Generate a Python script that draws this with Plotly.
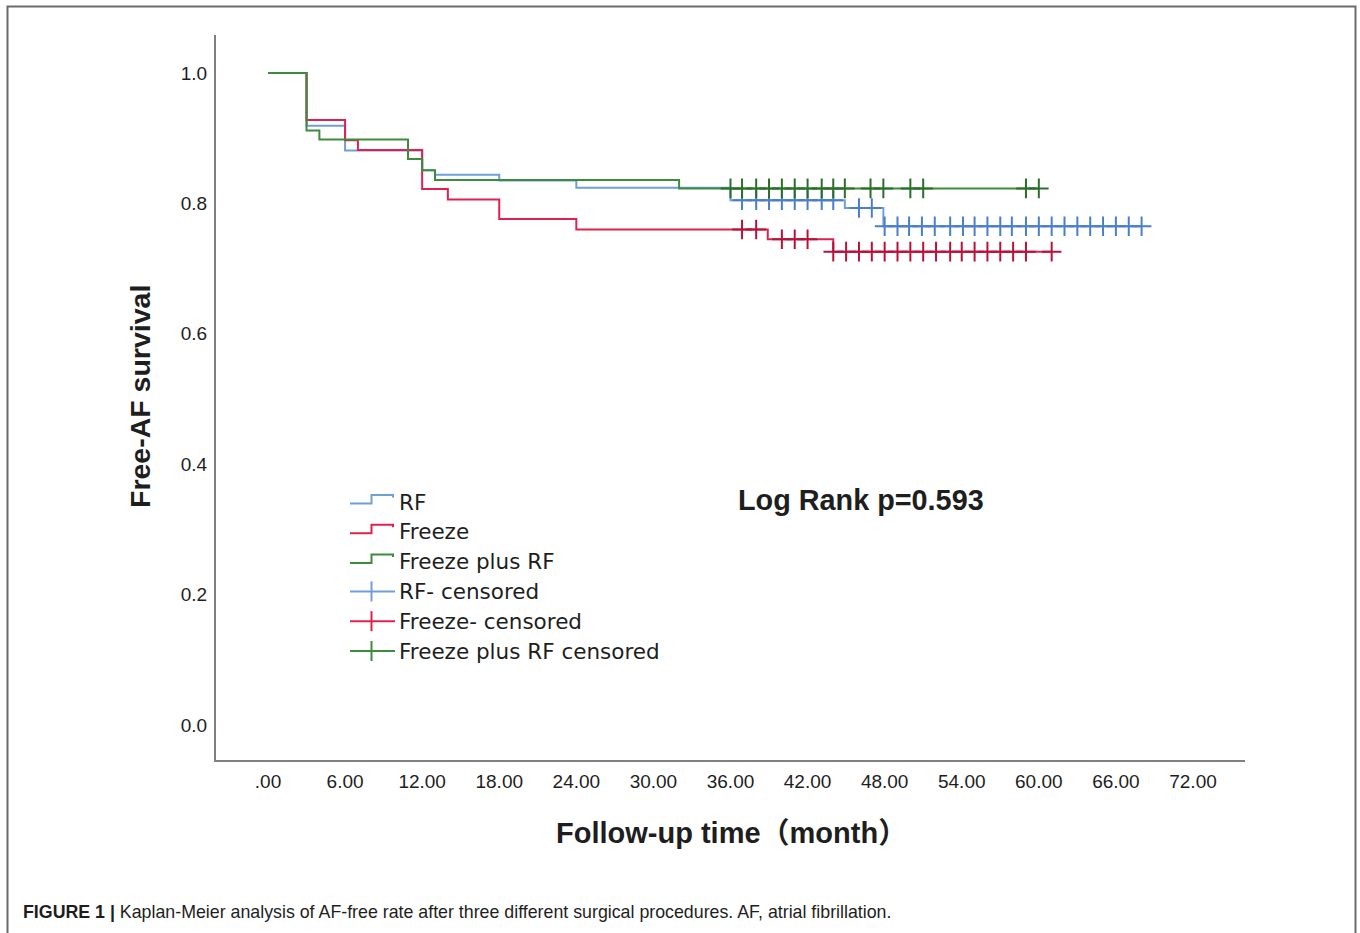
import numpy as np
import plotly.graph_objects as go

# ---------------- data ----------------
rf_times = [0, 3, 6, 12, 13, 18, 24, 36, 44.9, 47.9]
rf_surv = [1.0, 0.919, 0.881, 0.851, 0.844, 0.835, 0.824, 0.805, 0.793, 0.765]
rf_censored = [36.9, 38.0, 39.0, 40.0, 41.0, 42.0, 43.1, 44.0, 46.0, 47.0,
               48.0, 49.0, 49.9, 50.9, 51.9, 53.1, 54.1, 55.0, 56.0, 57.0,
               57.9, 59.0, 60.0, 61.0, 62.0, 63.0, 64.0, 65.0, 66.0, 67.0, 68.0]

fz_times = [0, 3, 6, 7, 12, 14, 18, 24, 38.9, 44]
fz_surv = [1.0, 0.928, 0.897, 0.882, 0.822, 0.806, 0.776, 0.760, 0.745, 0.726]
fz_censored = [36.9, 38.0, 40.0, 41.0, 42.0, 44.0, 45.0, 46.0, 47.0, 48.0,
               49.0, 50.0, 51.0, 52.0, 53.1, 54.0, 55.0, 56.0, 57.0, 58.0,
               59.0, 61.0]

fp_times = [0, 3, 4, 10.9, 12, 13, 32]
fp_surv = [1.0, 0.912, 0.898, 0.868, 0.851, 0.836, 0.823]
fp_censored = [36.0, 36.9, 38.0, 39.0, 40.0, 41.0, 42.0, 43.1, 44.0, 44.9,
               46.9, 47.9, 50.0, 51.0, 59.0, 60.0]

x_tickvals = [0, 6, 12, 18, 24, 30, 36, 42, 48, 54, 60, 66, 72]
x_ticktext = [".00", "6.00", "12.00", "18.00", "24.00", "30.00", "36.00",
              "42.00", "48.00", "54.00", "60.00", "66.00", "72.00"]
y_tickvals = [0.0, 0.2, 0.4, 0.6, 0.8, 1.0]

legend_labels = ["RF", "Freeze", "Freeze plus RF",
                 "RF- censored", "Freeze- censored", "Freeze plus RF censored"]

# ---------------- styles ----------------
C_RF, C_FZ, C_FP = "#6e9fd9", "#e0204f", "#3d8c3d"
M_RF, M_FZ, M_FP = "#4a7fc8", "#b8123a", "#2a6e2a"
TXT = "#1e1e1e"

W, H = 1360, 933
L, R, T, B = 216, 115, 35, 173
PW, PH = W - L - R, H - T - B


def px(x):
    return (x - L) / PW


def py(y):
    return (T + PH - y) / PH


def step_at(t, times, surv):
    idx = np.searchsorted(np.asarray(times), np.asarray(t), side="right") - 1
    return np.asarray(surv)[idx]


fig = go.Figure()

groups = [
    (rf_times, rf_surv, rf_censored, C_RF, M_RF),
    (fz_times, fz_surv, fz_censored, C_FZ, M_FZ),
    (fp_times, fp_surv, fp_censored, C_FP, M_FP),
]

for times, surv, cens, col, mcol in groups:
    end = max(cens)
    fig.add_trace(go.Scatter(
        x=list(times) + [end], y=list(surv) + [surv[-1]],
        mode="lines", line=dict(color=col, width=2, shape="hv"),
        showlegend=False, hoverinfo="skip"))

for times, surv, cens, col, mcol in groups:
    fig.add_trace(go.Scatter(
        x=cens, y=step_at(cens, times, surv),
        mode="markers",
        marker=dict(symbol="cross-thin", size=14, color=mcol,
                    line=dict(width=2, color=mcol)),
        showlegend=False, hoverinfo="skip"))

shapes = []
annotations = []

# outer frame
shapes.append(dict(type="rect", xref="paper", yref="paper",
                   x0=px(7.5), x1=px(1355.5), y0=py(960), y1=py(6.5),
                   line=dict(color="#6b6b6b", width=2), fillcolor="rgba(0,0,0,0)"))

# custom legend
row_y = [502 + 29.8 * i for i in range(6)]
leg_cols = [C_RF, C_FZ, C_FP, C_RF, C_FZ, C_FP]
for i, (lab, yc, col) in enumerate(zip(legend_labels, row_y, leg_cols)):
    if i < 3:
        path = (f"M {px(350)},{py(yc + 1.5)} L {px(371.5)},{py(yc + 1.5)} "
                f"L {px(371.5)},{py(yc - 7)} L {px(393)},{py(yc - 7)} "
                f"L {px(393)},{py(yc - 4.5)}")
        shapes.append(dict(type="path", xref="paper", yref="paper", path=path,
                           line=dict(color=col, width=2)))
    else:
        shapes.append(dict(type="line", xref="paper", yref="paper",
                           x0=px(350), x1=px(395), y0=py(yc), y1=py(yc),
                           line=dict(color=col, width=2)))
        shapes.append(dict(type="line", xref="paper", yref="paper",
                           x0=px(371.5), x1=px(371.5), y0=py(yc - 10), y1=py(yc + 10),
                           line=dict(color=col, width=2)))
    annotations.append(dict(text=lab, xref="paper", yref="paper",
                            x=px(397), y=py(yc), xanchor="left", yanchor="middle",
                            showarrow=False,
                            font=dict(family="DejaVu Sans", size=21.5, color=TXT)))

annotations.append(dict(text="<b>Log Rank p=0.593</b>", xref="paper", yref="paper",
                        x=px(736), y=py(500), xanchor="left", yanchor="middle",
                        showarrow=False,
                        font=dict(family="Liberation Sans", size=28.8, color=TXT)))

annotations.append(dict(text="<b>Free-AF survival</b>", xref="paper", yref="paper",
                        x=px(140), y=py(397), xanchor="center", yanchor="middle",
                        textangle=-90, showarrow=False,
                        font=dict(family="Liberation Sans", size=28.5, color=TXT)))

annotations.append(dict(text="<b>Follow-up time（month）</b>", xref="paper", yref="paper",
                        x=px(731), y=py(833), xanchor="center", yanchor="middle",
                        showarrow=False,
                        font=dict(family="Liberation Sans, Noto Sans CJK SC", size=29, color=TXT)))

annotations.append(dict(text="<b>FIGURE 1 |</b> Kaplan-Meier analysis of AF-free rate after three "
                             "different surgical procedures. AF, atrial fibrillation.",
                        xref="paper", yref="paper", x=px(21), y=py(912),
                        xanchor="left", yanchor="middle", showarrow=False,
                        font=dict(family="Liberation Sans", size=17.8, color=TXT)))

x_lo = -52 / 12.847
x_hi = (1245 - 268) / 12.847
y_lo = (725 - 760) / 652
y_hi = (725 - 35) / 652

fig.update_layout(
    width=W, height=H,
    margin=dict(l=L, r=R, t=T, b=B, autoexpand=False),
    paper_bgcolor="white", plot_bgcolor="white",
    shapes=shapes, annotations=annotations, showlegend=False,
    xaxis=dict(range=[x_lo, x_hi], tickvals=x_tickvals, ticktext=x_ticktext,
               showline=True, linecolor="#808080", linewidth=2, ticks="",
               ticklabelstandoff=3, showgrid=False, zeroline=False,
               tickfont=dict(family="Liberation Sans", size=19, color=TXT)),
    yaxis=dict(range=[y_lo, y_hi], tickvals=y_tickvals, tickformat=".1f",
               showline=True, linecolor="#808080", linewidth=2, ticks="",
               ticklabelstandoff=3, showgrid=False, zeroline=False,
               tickfont=dict(family="Liberation Sans", size=19, color=TXT)),
)

fig.write_html("out.html", config={"displayModeBar": False},
               post_script="document.body.style.margin='0';document.body.style.overflow='hidden';")
